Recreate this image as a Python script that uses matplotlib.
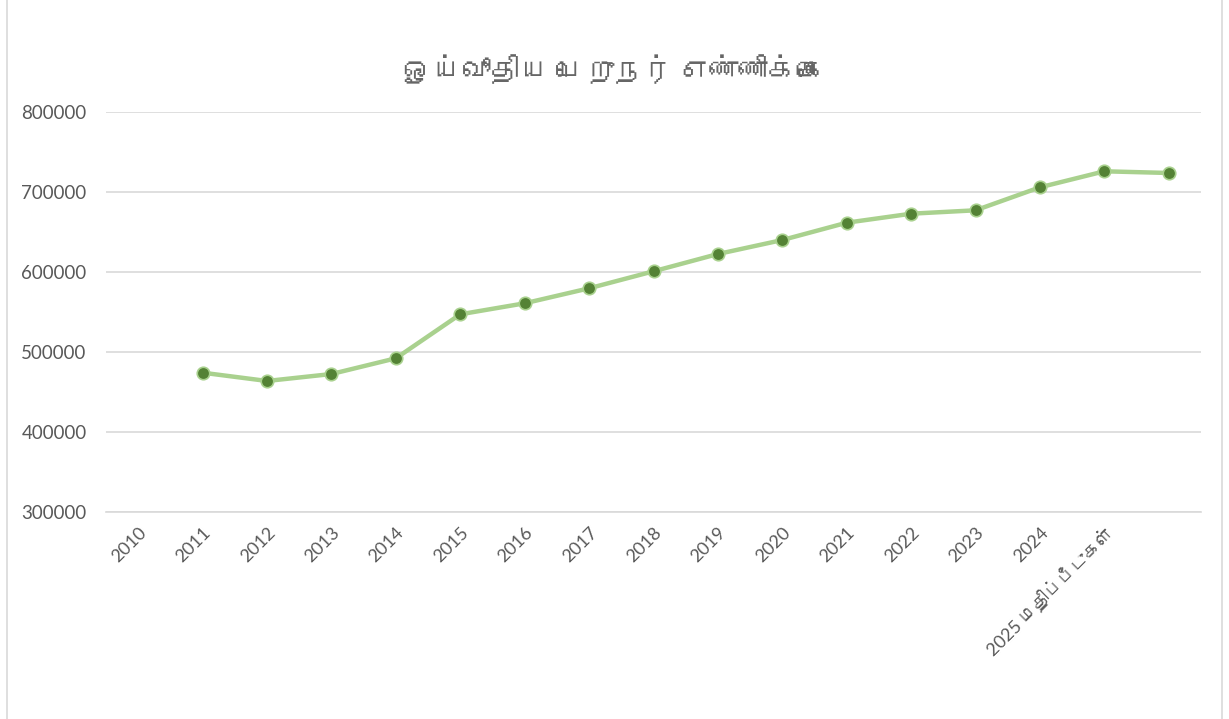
import matplotlib
matplotlib.use('Agg')
import matplotlib.pyplot as plt
from matplotlib import font_manager
from matplotlib.ft2font import FT2Font
from matplotlib.patches import Rectangle

# category labels (17 category slots, the last slot has no label)
labels = ['2010', '2011', '2012', '2013', '2014', '2015', '2016', '2017', '2018',
          '2019', '2020', '2021', '2022', '2023', '2024', '2025 மதிப்பீடுகள்', '']
# values sit one slot to the right of the labels (first slot is empty)
pensioners = [None, 473750, 463400, 472100, 491750, 546750, 560500, 579250, 600500,
              622100, 639600, 661250, 672500, 676750, 705500, 725500, 723400]
title = 'ஓய்வூதிய பெறுநர் எண்ணிக்கை'


def find_tamil_font():
    for f in font_manager.fontManager.ttflist:
        try:
            if 0x0B9A in FT2Font(f.fname).get_charmap():
                return f.name
        except Exception:
            pass
    return None


tamil = find_tamil_font()
families = ['Lato', 'DejaVu Sans']
if tamil:
    families = ['Lato', tamil, 'DejaVu Sans']
plt.rcParams['font.family'] = families

grey = '#595959'
fig = plt.figure(figsize=(12.29, 7.19), dpi=100)
ax = fig.add_axes([106 / 1229, 1 - 511.7 / 719, 1095 / 1229, 400 / 719])

x = [i for i, v in enumerate(pensioners) if v is not None]
y = [v for v in pensioners if v is not None]
ax.plot(x, y, color='#A9D18E', lw=3.2, marker='o', markersize=9,
        markerfacecolor='#548235', markeredgecolor='#A9D18E', markeredgewidth=1.2,
        zorder=3)

ax.set_xlim(-0.5, len(labels) - 0.5)
ax.set_ylim(300000, 800000)
ax.set_yticks(range(300000, 800001, 100000))
ax.set_yticklabels([str(v) for v in range(300000, 800001, 100000)])
ax.set_xticks(range(len(labels)))
ax.set_xticklabels(labels, rotation=45, ha='right', va='top', rotation_mode='anchor')

ax.grid(axis='y', color='#D9D9D9', lw=1.2)
ax.set_axisbelow(True)
for s in ['top', 'right', 'left']:
    ax.spines[s].set_visible(False)
ax.spines['bottom'].set_color('#D9D9D9')
ax.spines['bottom'].set_linewidth(1.2)
ax.tick_params(axis='both', length=0, colors=grey)
ax.tick_params(axis='y', labelsize=13.5, pad=14)
ax.tick_params(axis='x', labelsize=13, pad=9)

fig.text(0.5, 1 - 70 / 719, title, ha='center', va='center', fontsize=21, color='#666666')

# chart area border
fig.patches.append(Rectangle((7 / 1229, -0.05), 1215 / 1229, 1.2, transform=fig.transFigure,
                             fill=False, edgecolor='#D9D9D9', lw=1.2))

fig.savefig('out.png', dpi=100)
